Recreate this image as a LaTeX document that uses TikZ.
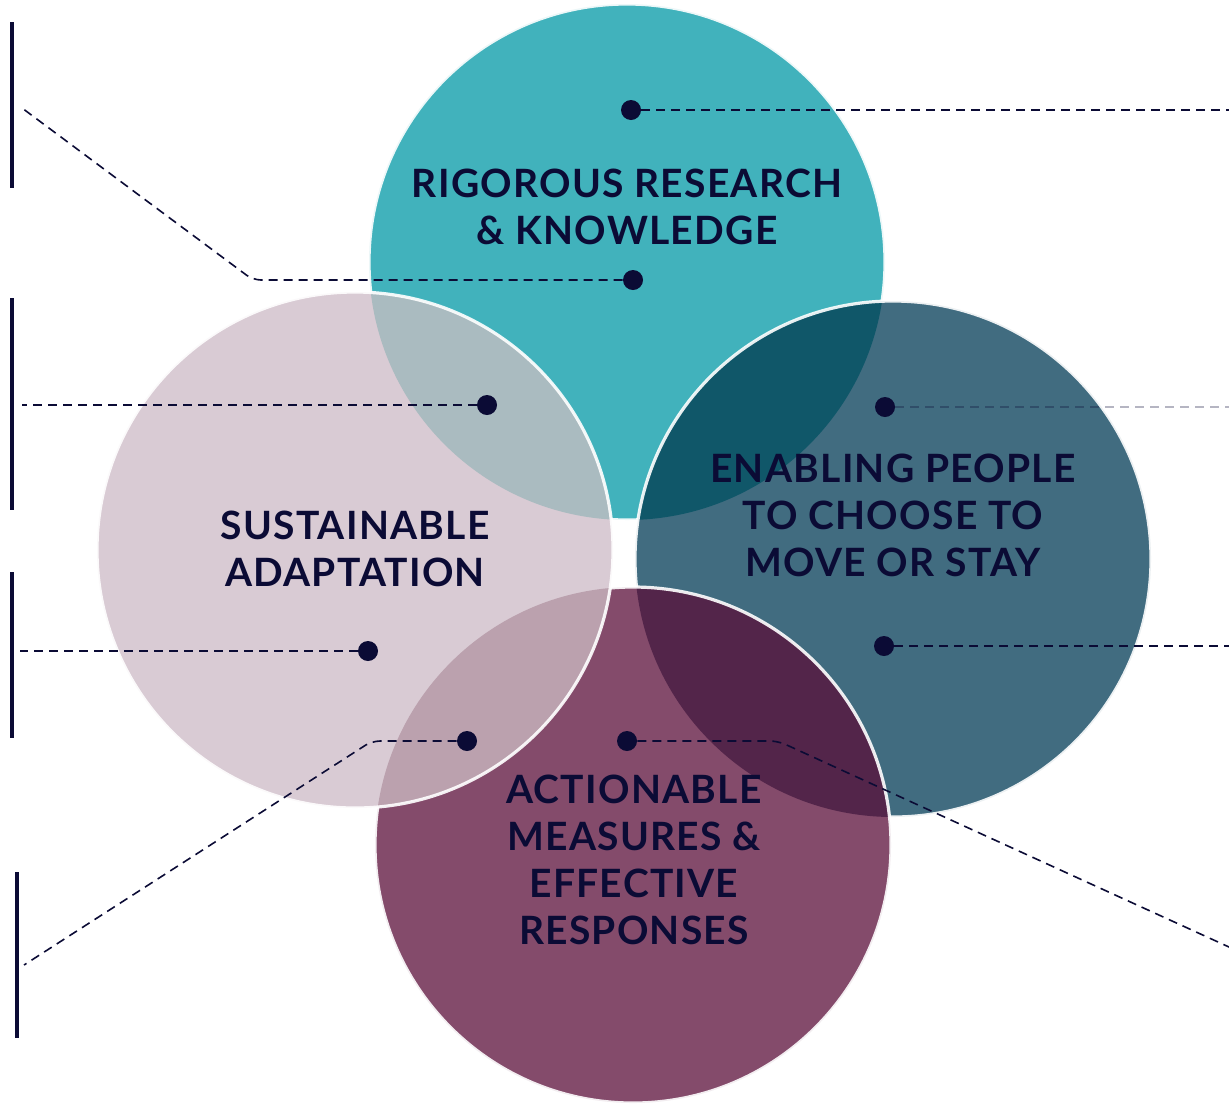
\documentclass[tikz,border=0pt]{standalone}
\usepackage{fontspec}
\setmainfont{Lato}
\newfontfamily\titlefont[LetterSpace=3.2]{Lato}
\definecolor{navy}{HTML}{0B0B35}
\definecolor{cTeal}{HTML}{41B2BC}
\definecolor{cPink}{HTML}{D9CBD4}
\definecolor{cBlue}{HTML}{416C80}
\definecolor{cPurple}{HTML}{844B6B}
\definecolor{cTealBlue}{HTML}{105769}
\definecolor{cBluePurple}{HTML}{53254A}
\definecolor{cPinkTeal}{HTML}{AABBC0}
\definecolor{cPinkPurple}{HTML}{BBA1AE}
\begin{document}
\begin{tikzpicture}[x=0.5pt,y=-0.5pt,
  ring/.style={draw=white,line width=1.6pt,opacity=0.9},
  dot/.style={circle,fill=navy,inner sep=0pt,minimum size=10pt},
  leader/.style={draw=navy,line width=0.8pt,dash pattern=on 4.5pt off 3pt,rounded corners=4pt},
  bar/.style={draw=navy,line width=1.6pt},
  label/.style={text=navy,align=center,font=\titlefont\bfseries\fontsize{19.5}{23.5}\selectfont,inner sep=0pt}]
\useasboundingbox (0,0) rectangle (1229,1104);
\def\R{129pt}
% circle centres
\coordinate (cT) at (627,262);
\coordinate (cB) at (893,559);
\coordinate (cP) at (633,845);
\coordinate (cS) at (355,550);

% teal circle
\fill[cTeal] (cT) circle[radius=\R];
\draw[ring] (cT) circle[radius=\R];
% blue circle over teal
\fill[cBlue] (cB) circle[radius=\R];
\begin{scope}
  \clip (cT) circle[radius=\R];
  \fill[cTealBlue] (cB) circle[radius=\R];
\end{scope}
\draw[ring] (cB) circle[radius=\R];
% purple circle over blue
\fill[cPurple] (cP) circle[radius=\R];
\begin{scope}
  \clip (cB) circle[radius=\R];
  \fill[cBluePurple] (cP) circle[radius=\R];
\end{scope}
\draw[ring] (cP) circle[radius=\R];
% pink circle on top
\fill[cPink] (cS) circle[radius=\R];
\begin{scope}
  \clip (cT) circle[radius=\R];
  \fill[cPinkTeal] (cS) circle[radius=\R];
\end{scope}
\begin{scope}
  \clip (cP) circle[radius=\R];
  \fill[cPinkPurple] (cS) circle[radius=\R];
\end{scope}
\draw[ring] (cS) circle[radius=\R];

% left-hand bars
\coordinate (b1a) at (12,22);   \coordinate (b1b) at (12,188);
\coordinate (b2a) at (12,298);  \coordinate (b2b) at (12,510);
\coordinate (b3a) at (12,572);  \coordinate (b3b) at (12,738);
\coordinate (b4a) at (17,872);  \coordinate (b4b) at (17,1038);
\draw[bar] (b1a) -- (b1b);
\draw[bar] (b2a) -- (b2b);
\draw[bar] (b3a) -- (b3b);
\draw[bar] (b4a) -- (b4b);

% dots
\node[dot] (d1) at (631,110) {};
\node[dot] (d2) at (633,280) {};
\node[dot] (d3) at (487,405) {};
\node[dot] (d4) at (885,407) {};
\node[dot] (d5) at (368,651) {};
\node[dot] (d6) at (884,646) {};
\node[dot] (d7) at (467,741) {};
\node[dot] (d8) at (627,741) {};

% leader ends and bends
\coordinate (e1) at (1229,110);
\coordinate (k2) at (253,280);  \coordinate (e2) at (22,108);
\coordinate (e3) at (22,405);
\coordinate (e4) at (1229,407);
\coordinate (e5) at (20,651);
\coordinate (e6) at (1229,646);
\coordinate (k7) at (372,741);  \coordinate (e7) at (24,965);
\coordinate (k8) at (778,741);  \coordinate (e8) at (1229,947);

\draw[leader] (d1) -- (e1);
\draw[leader] (d2) -- (k2) -- (e2);
\draw[leader] (d3) -- (e3);
\draw[leader,draw opacity=0.3] (d4) -- (e4);
\draw[leader] (d5) -- (e5);
\draw[leader] (d6) -- (e6);
\draw[leader] (d7) -- (k7) -- (e7);
\draw[leader] (d8) -- (k8) -- (e8);

% circle titles
\node[label] (tResearch) at (627,207) {RIGOROUS RESEARCH\\\& KNOWLEDGE};
\node[label] (tAdapt) at (355,549) {SUSTAINABLE\\ADAPTATION};
\node[label] (tMove) at (893,515) {ENABLING PEOPLE\\TO CHOOSE TO\\MOVE OR STAY};
\node[label] (tAct) at (634,860) {ACTIONABLE\\MEASURES \&\\EFFECTIVE\\RESPONSES};
\end{tikzpicture}
\end{document}
